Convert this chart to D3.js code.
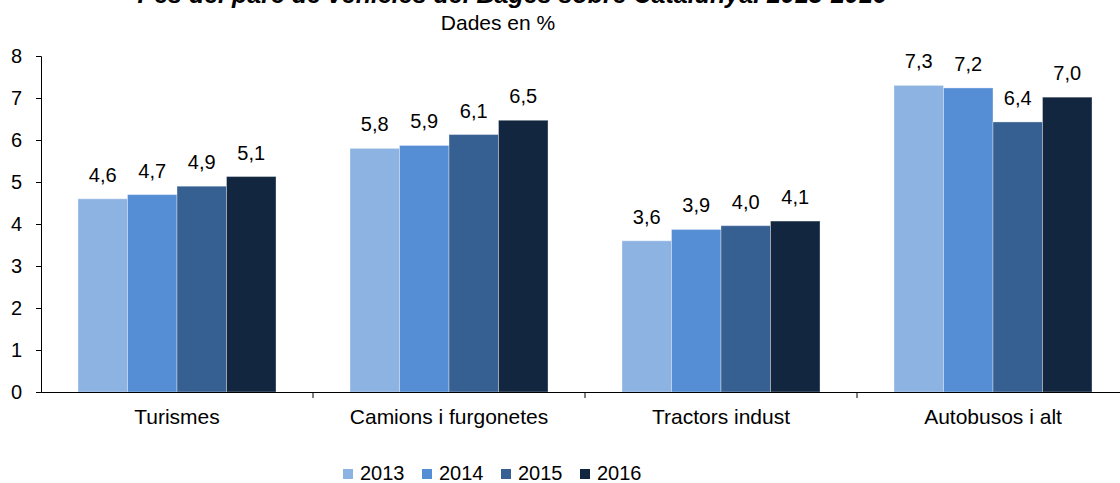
<!DOCTYPE html>
<html>
<head>
<meta charset="utf-8">
<script src="https://cdn.jsdelivr.net/npm/d3@7"></script>
<style>
  body { margin: 0; background: #fff; }
  text { font-family: "Liberation Sans", Arial, sans-serif; fill: #000; }
</style>
</head>
<body>
<div id="chart-area"></div>
<script>

// Data
var categories = ["Turismes", "Camions i furgonetes", "Tractors indust", "Autobusos i alt"];
var years = ["2013", "2014", "2015", "2016"];
var v2013 = [4.6, 5.8, 3.6, 7.3];
var v2014 = [4.7, 5.87, 3.87, 7.24];
var v2015 = [4.9, 6.13, 3.96, 6.43];
var v2016 = [5.13, 6.47, 4.07, 7.02];
var yTicks = [0, 1, 2, 3, 4, 5, 6, 7, 8];
var colors = ["#8db3e2", "#558ed5", "#376092", "#12263f"];

var series = [v2013, v2014, v2015, v2016];

// SVG drawing area
var margin = {top: 56, right: 0, bottom: 91, left: 41};
var width = 1088,
    height = 336;

var svg = d3.select("#chart-area").append("svg")
    .attr("width", 1120)
    .attr("height", 483)
  .append("g")
    .attr("transform", "translate(" + margin.left + "," + margin.top + ")");

// Scales
var x0 = d3.scaleBand()
    .domain(categories)
    .range([0, width])
    .paddingInner(0.272)
    .paddingOuter(0.136);

var x1 = d3.scaleBand()
    .domain(years)
    .range([0, x0.bandwidth()]);

var y = d3.scaleLinear()
    .domain([0, 8])
    .range([height, 0]);

var fmt = function(v) { return d3.format(".1f")(v).replace(".", ","); };

// Titles
svg.append("text")
    .attr("x", 512 - margin.left)
    .attr("y", 3 - margin.top)
    .attr("text-anchor", "middle")
    .style("font-size", "25px")
    .style("font-weight", "bold")
    .style("font-style", "italic")
    .text("Pes del parc de vehicles del Bages sobre Catalunya. 2013-2016");

svg.append("text")
    .attr("x", 498 - margin.left)
    .attr("y", 30 - margin.top)
    .attr("text-anchor", "middle")
    .style("font-size", "21px")
    .text("Dades en %");

// Bars
var groups = svg.selectAll(".cat")
    .data(categories)
  .enter().append("g")
    .attr("class", "cat")
    .attr("transform", function(d) { return "translate(" + x0(d) + ",0)"; });

groups.selectAll("rect")
    .data(function(d, i) { return years.map(function(yr, j) { return {year: yr, value: series[j][i], j: j}; }); })
  .enter().append("rect")
    .attr("x", function(d) { return x1(d.year); })
    .attr("y", function(d) { return y(d.value); })
    .attr("width", x1.bandwidth())
    .attr("height", function(d) { return height - y(d.value); })
    .attr("fill", function(d) { return colors[d.j]; })
    .attr("stroke", "#ffffff")
    .attr("stroke-opacity", 0.35)
    .attr("stroke-width", 1);

groups.selectAll(".lbl")
    .data(function(d, i) { return years.map(function(yr, j) { return {year: yr, value: series[j][i]}; }); })
  .enter().append("text")
    .attr("class", "lbl")
    .attr("x", function(d) { return x1(d.year) + x1.bandwidth() / 2; })
    .attr("y", function(d) { return y(d.value) - 17; })
    .attr("text-anchor", "middle")
    .style("font-size", "20px")
    .text(function(d) { return fmt(d.value); });

// Axes
var yAxis = d3.axisLeft(y).tickValues(yTicks).tickSize(5).tickPadding(14).tickFormat(d3.format("d"));
var gy = svg.append("g").attr("class", "axis y-axis").call(yAxis);
gy.select(".domain").attr("stroke", "#000");
gy.selectAll("text").style("font-size", "20px");
gy.selectAll(".tick line").attr("stroke", "#000");

var xAxis = d3.axisBottom(x0).tickSize(0).tickPadding(17);
var gx = svg.append("g")
    .attr("class", "axis x-axis")
    .attr("transform", "translate(0," + height + ")")
    .call(xAxis);
gx.select(".domain").attr("stroke", "#000");
gx.selectAll("text").style("font-size", "21px");

// separator ticks between categories
var sepScale = d3.scaleLinear().domain([0, 4]).range([0, width]);
gx.selectAll(".sep")
    .data(d3.range(1, 4))
  .enter().append("line")
    .attr("class", "sep")
    .attr("x1", function(d) { return sepScale(d); })
    .attr("x2", function(d) { return sepScale(d); })
    .attr("y1", 0)
    .attr("y2", 6)
    .attr("stroke", "#000");

// Legend
var legend = svg.append("g")
    .attr("transform", "translate(" + (343 - margin.left) + "," + (469 - margin.top) + ")");

var li = legend.selectAll(".li")
    .data(years)
  .enter().append("g")
    .attr("class", "li")
    .attr("transform", function(d, i) { return "translate(" + (i * 79) + ",0)"; });

li.append("rect")
    .attr("width", 10)
    .attr("height", 10)
    .attr("fill", function(d, i) { return colors[i]; });

li.append("text")
    .attr("x", 17)
    .attr("y", 11)
    .style("font-size", "20px")
    .text(function(d) { return d; });

</script>
</body>
</html>
